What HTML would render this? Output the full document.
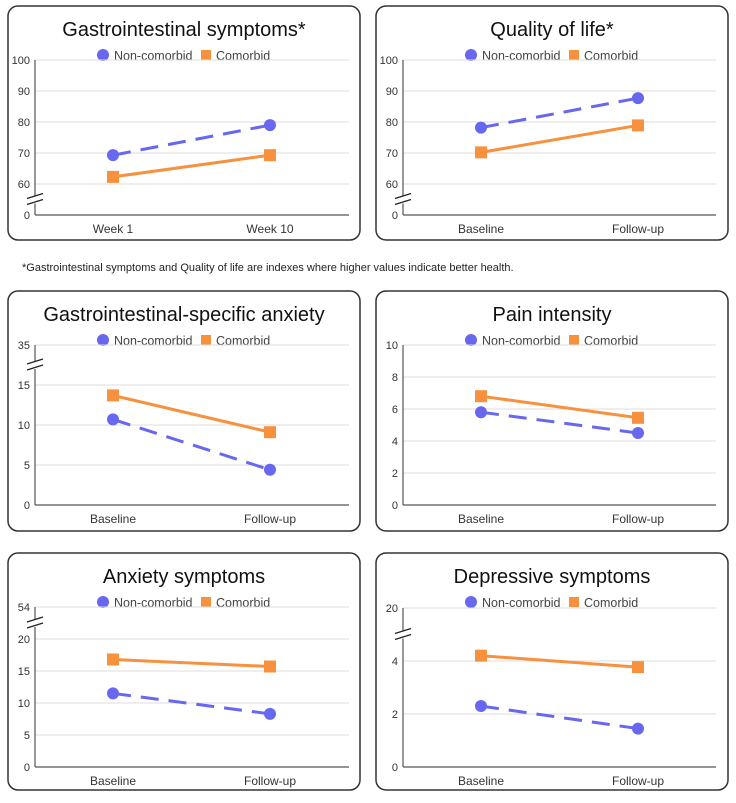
<!DOCTYPE html>
<html><head><meta charset="utf-8">
<style>
html,body{margin:0;padding:0;background:#fff;}
svg{display:block;font-family:"Liberation Sans",Arial,sans-serif;}
</style></head>
<body>
<svg id="chart" width="736" height="803" viewBox="0 0 736 803" xmlns="http://www.w3.org/2000/svg">
<text x="22" y="271" font-size="11" fill="#222">*Gastrointestinal symptoms and Quality of life are indexes where higher values indicate better health.</text>
</svg>
<script>
const titles = ["Gastrointestinal symptoms*","Quality of life*","Gastrointestinal-specific anxiety","Pain intensity","Anxiety symptoms","Depressive symptoms"];
const categoriesA = ["Week 1","Week 10"];
const categoriesB = ["Baseline","Follow-up"];
const ticksGI = [0,60,70,80,90,100];
const ticksQoL = [0,60,70,80,90,100];
const ticksGIA = [0,5,10,15,35];
const ticksPain = [0,2,4,6,8,10];
const ticksAnx = [0,5,10,15,20,54];
const ticksDep = [0,2,4,20];
const nonGI = [69.3,79.0];
const comGI = [62.3,69.3];
const nonQoL = [78.2,87.7];
const comQoL = [70.2,78.9];
const nonGIA = [10.7,4.4];
const comGIA = [13.7,9.1];
const nonPain = [5.8,4.5];
const comPain = [6.8,5.45];
const nonAnx = [11.5,8.3];
const comAnx = [16.8,15.7];
const nonDep = [2.3,1.45];
const comDep = [4.2,3.77];

const NS="http://www.w3.org/2000/svg";
const svg=document.getElementById('chart');
function mk(tag,attrs,parent){const e=document.createElementNS(NS,tag);for(const k in attrs)e.setAttribute(k,attrs[k]);(parent||svg).appendChild(e);return e;}

const BLUE="#6767f0", ORANGE="#f7913d";
const panels=[
 {t:0,cats:categoriesA,ticks:ticksGI,non:nonGI,com:comGI,col:0,box:[6,240],grid:[60,215],brk:1},
 {t:1,cats:categoriesB,ticks:ticksQoL,non:nonQoL,com:comQoL,col:1,box:[6,240],grid:[60,215],brk:1},
 {t:2,cats:categoriesB,ticks:ticksGIA,non:nonGIA,com:comGIA,col:0,box:[291,531],grid:[345,505],brk:4},
 {t:3,cats:categoriesB,ticks:ticksPain,non:nonPain,com:comPain,col:1,box:[291,531],grid:[345,505],brk:0},
 {t:4,cats:categoriesB,ticks:ticksAnx,non:nonAnx,com:comAnx,col:0,box:[553,790],grid:[607,767],brk:5},
 {t:5,cats:categoriesB,ticks:ticksDep,non:nonDep,com:comDep,col:1,box:[553,790],grid:[608,767],brk:3}
];
panels.forEach(p=>{
  const g=mk('g',{});
  
  
  const bx = p.col===0?8:376, bw=352;
  const ax = p.col===0?35:403, ar = p.col===0?349:716;
  const cx = p.col===0?[113,270]:[481,638];
  const r=mk('rect',{x:bx,y:p.box[0],width:bw,height:p.box[1]-p.box[0],rx:10,fill:"#fff",stroke:"#333","stroke-width":1.5},g);
  
  
  const tt=mk('text',{x:bx+bw/2,y:p.box[0]+30,"text-anchor":"middle","font-size":20,fill:"#111"},g);
  tt.textContent=titles[p.t];
  
  
  const ly=p.box[0]+49, lx=bx+95;
  const lg=mk('g',{},g);
  
  
  mk('circle',{cx:lx,cy:ly,r:6,fill:BLUE},lg);
  const l1=mk('text',{x:lx+11,y:ly+5,"font-size":12.5,fill:"#444"},lg);l1.textContent="Non-comorbid";
  
  
  mk('rect',{x:lx+98,y:ly-5,width:10,height:10,fill:ORANGE},lg);
  const l2=mk('text',{x:lx+113,y:ly+5,"font-size":12.5,fill:"#444"},lg);l2.textContent="Comorbid";
  
  
  const n=p.ticks.length, top=p.grid[0], bot=p.grid[1], step=(bot-top)/(n-1);
  const tickY=i=>bot-i*step;
  function seg(v,i){const a=p.ticks[i],b=p.ticks[i+1];return tickY(i)+(v-a)/(b-a)*(tickY(i+1)-tickY(i));}
  function y(v){
    // break at the top: values above the last regular tick extend that segment's scale
    if(p.brk===n-1 && v>=p.ticks[n-2]) return seg(v,n-3);
    for(let i=0;i<n-1;i++){ if(v<=p.ticks[i+1]) return seg(v,i); }
    return seg(v,n-2);
  }
  p.ticks.forEach((tv,i)=>{
    const yy=tickY(i);
    if(i>0){const gl=mk('line',{x1:ax,x2:ar,y1:yy,y2:yy,stroke:"#ddd","stroke-width":1},g);
      
      }
    const tl=mk('text',{x:ax-5,y:yy+4,"text-anchor":"end","font-size":11,fill:"#333"},g);tl.textContent=tv;
    
    
  });
  const axl=mk('line',{x1:ax,x2:ax,y1:top,y2:bot,stroke:"#555","stroke-width":1.2},g);
  
  
  const xl=mk('line',{x1:ax,x2:ar,y1:bot,y2:bot,stroke:"#555","stroke-width":1.2},g);
  
  
  if(p.brk>0){
    const bry=(tickY(p.brk-1)+tickY(p.brk))/2;
    const bg=mk('g',{},g);
    
    
    mk('rect',{x:ax-8,y:bry-4,width:16,height:8,fill:"#fff"},bg);
    mk('line',{x1:ax-8,y1:bry-1,x2:ax+8,y2:bry-6,stroke:"#222","stroke-width":1.3},bg);
    mk('line',{x1:ax-8,y1:bry+5,x2:ax+8,y2:bry,stroke:"#222","stroke-width":1.3},bg);
  }
  p.cats.forEach((c,i)=>{
    const t=mk('text',{x:cx[i],y:bot+18,"text-anchor":"middle","font-size":12,fill:"#333"},g);t.textContent=c;
    
    
  });
  const cl=mk('line',{x1:cx[0],y1:y(p.com[0]),x2:cx[1],y2:y(p.com[1]),stroke:ORANGE,"stroke-width":3},g);
  
  
  const nl=mk('line',{x1:cx[0],y1:y(p.non[0]),x2:cx[1],y2:y(p.non[1]),stroke:BLUE,"stroke-width":3,"stroke-dasharray":"18 10"},g);
  
  
  p.com.forEach((v,i)=>{const m=mk('rect',{x:cx[i]-6,y:y(v)-6,width:12,height:12,fill:ORANGE},g);
    
    });
  p.non.forEach((v,i)=>{const m=mk('circle',{cx:cx[i],cy:y(v),r:6,fill:BLUE},g);
    
    });
});
</script>
</body></html>
